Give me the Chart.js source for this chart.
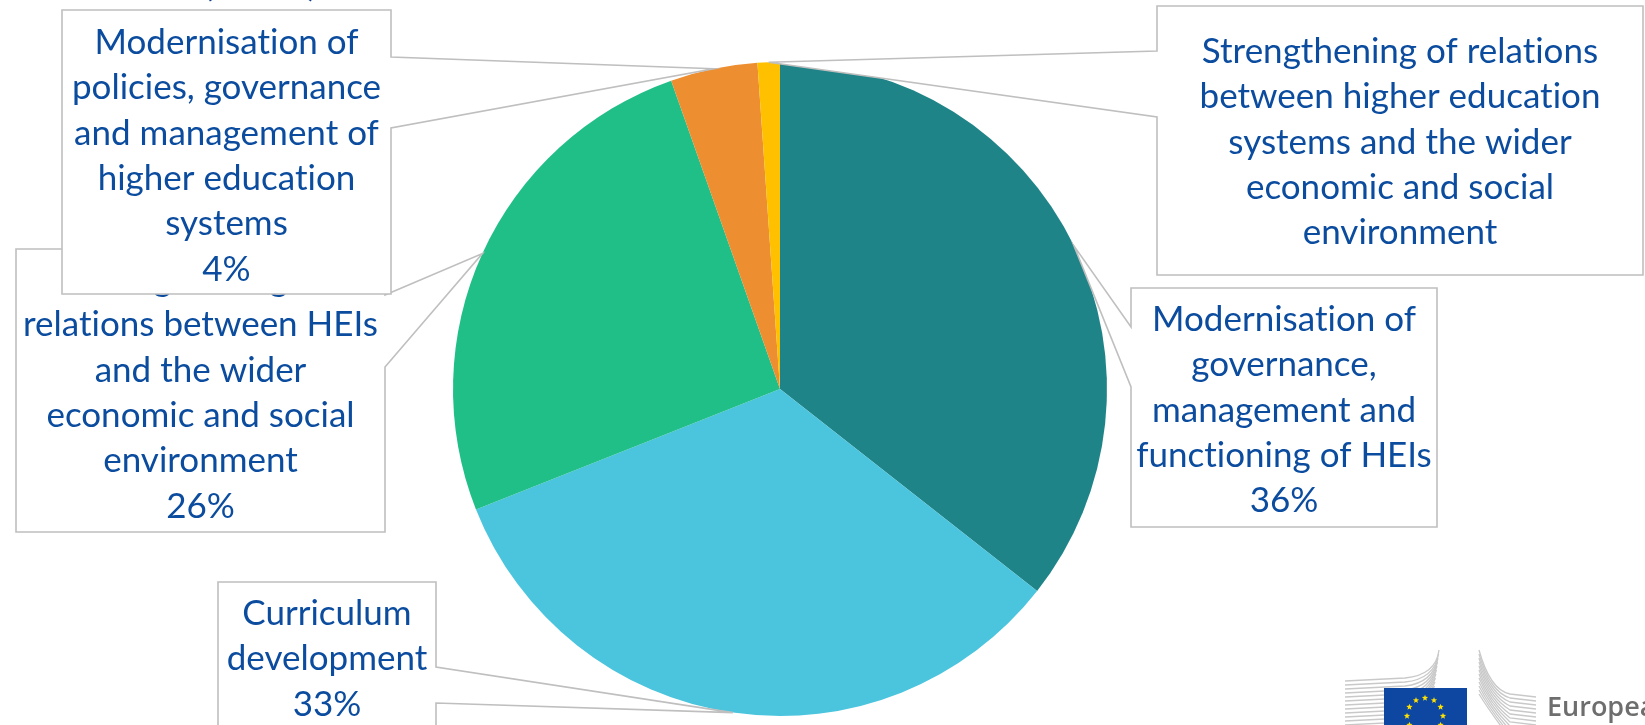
<!DOCTYPE html>
<html><head><meta charset="utf-8">
<script src="https://cdn.jsdelivr.net/npm/chart.js@4.4.1/dist/chart.umd.min.js"></script>
<style>html,body{margin:0;padding:0;background:#fff;overflow:hidden}canvas{display:block}</style>
</head><body>
<canvas id="c" width="1645" height="725"></canvas>
<script>
// ---------- DATA ----------
const categories = [
  "Modernisation of governance, management and functioning of HEIs",
  "Curriculum development",
  "Strengthening of relations between HEIs and the wider economic and social environment",
  "Modernisation of policies, governance and management of higher education systems",
  "Strengthening of relations between higher education systems and the wider economic and social environment"
];
const shares = [35.6, 33.4, 25.6, 4.3, 1.1];
const percentLabels = ["36%", "33%", "26%", "4%", ""];
const labelLines = [
  ["Modernisation of", "governance,", "management and", "functioning of HEIs"],
  ["Curriculum", "development"],
  ["Strengthening of", "relations between HEIs", "and the wider", "economic and social", "environment"],
  ["Modernisation of", "policies, governance", "and management of", "higher education", "systems"],
  ["Strengthening of relations", "between higher education", "systems and the wider", "economic and social", "environment"]
];
const sliceColors = ["#1F8488", "#4BC4DD", "#20BF88", "#ED8E31", "#FFC000"];
const titleFragment = "(2015)";

// ---------- LAYOUT (callout boxes) ----------
const callouts = [
  {i: 0, x: 1131, y: 288, w: 306, h: 239, side: 'left',  b1: 327, b2: 387, base: 331},
  {i: 1, x: 218,  y: 582, w: 218, h: 220, side: 'right', b1: 667, b2: 703, base: 625},
  {i: 2, x: 16,   y: 249, w: 369, h: 283, side: 'right', b1: 295, b2: 367, base: 291},
  {i: 4, x: 1157, y: 6,   w: 486, h: 269, side: 'left',  b1: 51,  b2: 117, base: 63},
  {i: 3, x: 62,   y: 10,  w: 329, h: 284, side: 'right', b1: 57,  b2: 128, base: 54}
];
const LINE_STEP = 45.3;
const TEXT_FONT = '35px Lato';
const TEXT_COLOR = '#0B4C9F';
const BOX_STROKE = '#BFBFBF';

// avoid the "ti" ligature of Lato so the glyphs look like the original
function noLig(t) { return t.replace(/ti/g, 't\u200Ci'); }

const calloutPlugin = {
  id: 'callouts',
  afterDatasetsDraw(chart) {
    const ctx = chart.ctx;
    const meta = chart.getDatasetMeta(0);
    ctx.save();
    callouts.forEach(c => {
      const arc = meta.data[c.i];
      const mid = (arc.startAngle + arc.endAngle) / 2;
      const tx = arc.x + Math.cos(mid) * arc.outerRadius;
      const ty = arc.y + Math.sin(mid) * arc.outerRadius;
      ctx.beginPath();
      if (c.side === 'right') {
        ctx.moveTo(c.x, c.y);
        ctx.lineTo(c.x + c.w, c.y);
        ctx.lineTo(c.x + c.w, c.b1);
        ctx.lineTo(tx, ty);
        ctx.lineTo(c.x + c.w, c.b2);
        ctx.lineTo(c.x + c.w, c.y + c.h);
        ctx.lineTo(c.x, c.y + c.h);
      } else {
        ctx.moveTo(c.x, c.y);
        ctx.lineTo(c.x + c.w, c.y);
        ctx.lineTo(c.x + c.w, c.y + c.h);
        ctx.lineTo(c.x, c.y + c.h);
        ctx.lineTo(c.x, c.b2);
        ctx.lineTo(tx, ty);
        ctx.lineTo(c.x, c.b1);
      }
      ctx.closePath();
      ctx.fillStyle = '#FFFFFF';
      ctx.fill();
      ctx.lineWidth = 1.6;
      ctx.strokeStyle = BOX_STROKE;
      ctx.lineJoin = 'miter';
      ctx.stroke();
      const lines = labelLines[c.i].slice();
      if (percentLabels[c.i]) lines.push(percentLabels[c.i]);
      ctx.fillStyle = TEXT_COLOR;
      ctx.font = TEXT_FONT;
      ctx.textAlign = 'center';
      ctx.textBaseline = 'alphabetic';
      lines.forEach((t, k) => {
        ctx.fillText(noLig(t), c.x + c.w / 2, c.base + k * LINE_STEP);
      });
    });
    ctx.restore();
  },
  afterDraw(chart) {
    const ctx = chart.ctx;
    ctx.save();
    // cropped title fragment at top
    ctx.fillStyle = '#0D3C8C';
    ctx.font = 'bold 40px Lato';
    ctx.textAlign = 'left';
    ctx.textBaseline = 'alphabetic';
    ctx.fillText(titleFragment, 203, -5);

    // European Commission logo (partial, bottom right)
    ctx.strokeStyle = '#C9C9C9';
    ctx.lineWidth = 1.3;
    for (let k = 0; k < 12; k++) {
      const y0 = 681 + k * 4;
      ctx.beginPath();
      ctx.moveTo(1345, y0);
      ctx.lineTo(1405, y0 - 3);
      ctx.quadraticCurveTo(1436 - k * 1.5, y0 - 6, 1439 - k * 0.5, 650 + k * 4);
      ctx.stroke();
    }
    for (let k = 0; k < 12; k++) {
      ctx.beginPath();
      ctx.moveTo(1479, 650 + k * 4);
      ctx.quadraticCurveTo(1490, 690 + k * 2, 1510, 694 + k * 4);
      ctx.lineTo(1536, 697 + k * 4);
      ctx.stroke();
    }
    ctx.fillStyle = '#0E47A1';
    ctx.fillRect(1384, 688, 83, 50);
    ctx.fillStyle = '#FFE100';
    const scx = 1425, scy = 716, sr = 18;
    for (let s = 0; s < 12; s++) {
      const a = s * Math.PI / 6;
      const px = scx + Math.sin(a) * sr, py = scy - Math.cos(a) * sr;
      ctx.beginPath();
      for (let p = 0; p < 10; p++) {
        const rr = p % 2 === 0 ? 3.3 : 1.4;
        const aa = -Math.PI / 2 + p * Math.PI / 5;
        ctx.lineTo(px + Math.cos(aa) * rr, py + Math.sin(aa) * rr);
      }
      ctx.closePath();
      ctx.fill();
    }
    ctx.fillStyle = '#6E6E6E';
    ctx.font = '600 27px "Open Sans"';
    ctx.textAlign = 'left';
    ctx.fillText('European', 1547, 716);
    ctx.restore();
  }
};

new Chart(document.getElementById('c'), {
  type: 'pie',
  data: {
    labels: categories,
    datasets: [{
      data: shares,
      backgroundColor: sliceColors,
      borderWidth: 0,
      hoverOffset: 0
    }]
  },
  options: {
    responsive: false,
    animation: false,
    layout: {padding: {left: 453, right: 538, top: 62, bottom: 9}},
    plugins: {
      legend: {display: false},
      tooltip: {enabled: false},
      title: {display: false}
    },
    events: []
  },
  plugins: [calloutPlugin]
});
</script>
</body></html>
